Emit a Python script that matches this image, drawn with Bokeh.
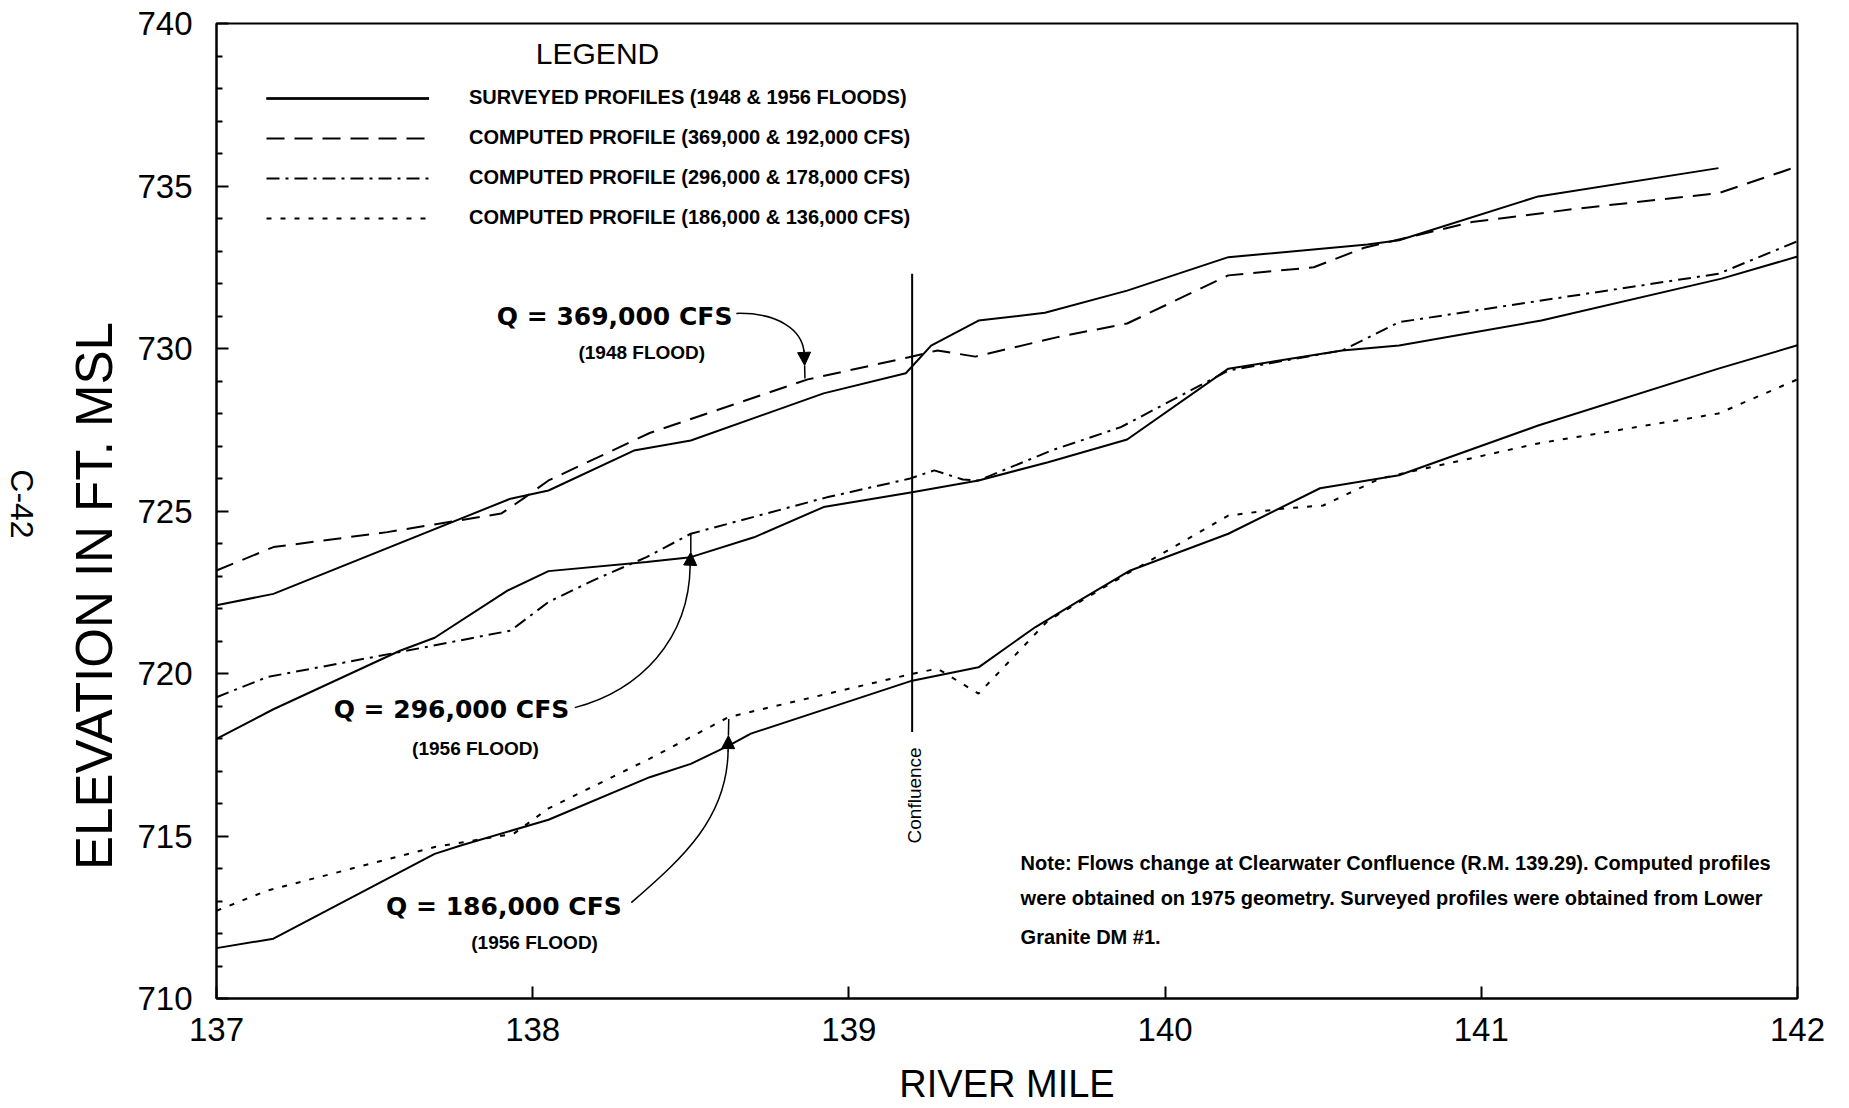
import math
from bokeh.plotting import figure
from bokeh.layouts import row
from bokeh.models import Range1d, FixedTicker, Label, Legend, LegendItem, Arrow, NormalHead
from bokeh.embed import file_html
from bokeh.resources import INLINE

FONT = "Liberation Sans"

# ---- axis ticks ----
mile_ticks = [137, 138, 139, 140, 141, 142]
elev_ticks = [710, 715, 720, 725, 730, 735, 740]
elev_minor = [v for v in range(711, 740) if v % 5 != 0]

# ---- surveyed profiles ----
s1948_mile = [137.0, 137.18, 137.93, 138.05, 138.32, 138.5, 138.92, 139.18, 139.26,
              139.41, 139.62, 139.88, 140.2, 140.64, 140.74, 141.18, 141.75]
s1948_elev = [722.1, 722.45, 725.38, 725.63, 726.86, 727.17, 728.62, 729.24, 730.09,
              730.86, 731.1, 731.78, 732.81, 733.2, 733.33, 734.68, 735.55]

s1956a_mile = [137.0, 137.18, 137.58, 137.69, 137.92, 138.05, 138.36, 138.5, 138.7, 138.92,
               139.2, 139.41, 139.63, 139.88, 140.2, 140.56, 140.74, 141.19, 141.76, 142.0]
s1956a_elev = [717.99, 718.9, 720.7, 721.1, 722.55, 723.15, 723.43, 723.58, 724.19, 725.12,
               725.58, 725.94, 726.5, 727.2, 729.38, 729.94, 730.09, 730.86, 732.15, 732.83]

s1956b_mile = [137.0, 137.18, 137.69, 137.77, 138.05, 138.37, 138.5, 138.62, 138.69, 139.2,
               139.41, 139.59, 139.73, 139.89, 140.2, 140.49, 140.74, 141.18, 141.75, 142.0]
s1956b_elev = [711.55, 711.84, 714.45, 714.7, 715.5, 716.81, 717.22, 717.78, 718.15, 719.78,
               720.19, 721.43, 722.25, 723.17, 724.3, 725.7, 726.1, 727.63, 729.38, 730.1]

# ---- computed profiles ----
c369_mile = [137.0, 137.18, 137.54, 137.9, 137.97, 138.05, 138.37, 138.87, 139.19, 139.28,
             139.4, 139.66, 139.88, 140.2, 140.47, 140.63, 140.97, 141.3, 141.75, 142.0]
c369_elev = [723.17, 723.89, 724.35, 724.92, 725.38, 725.94, 727.4, 729.05, 729.73, 729.94,
             729.75, 730.35, 730.77, 732.25, 732.5, 733.1, 733.89, 734.3, 734.78, 735.6]

c296_mile = [137.0, 137.16, 137.58, 137.93, 138.05, 138.19, 138.36, 138.5, 138.93, 139.19,
             139.27, 139.36, 139.41, 139.64, 139.86, 140.2, 140.56, 140.74, 141.05, 141.75, 142.0]
c296_elev = [719.27, 719.89, 720.66, 721.32, 722.2, 722.86, 723.58, 724.3, 725.42, 725.99,
             726.25, 725.97, 725.94, 726.86, 727.58, 729.32, 729.94, 730.81, 731.27, 732.3, 733.3]

c186_mile = [137.0, 137.16, 137.69, 137.94, 138.05, 138.37, 138.62, 139.2, 139.28, 139.41,
             139.63, 139.88, 140.2, 140.37, 140.5, 140.68, 141.18, 141.75, 142.0]
c186_elev = [712.7, 713.32, 714.66, 715.07, 715.85, 717.38, 718.66, 719.99, 720.15, 719.38,
             721.63, 723.07, 724.86, 725.07, 725.17, 726.0, 727.08, 728.0, 729.05]

# ---- Clearwater confluence marker ----
confluence_mile = 139.2
confluence_span = [718.2, 732.3]

legend_labels = [
    "SURVEYED PROFILES (1948 & 1956 FLOODS)",
    "COMPUTED PROFILE (369,000 & 192,000 CFS)",
    "COMPUTED PROFILE (296,000 & 178,000 CFS)",
    "COMPUTED PROFILE (186,000 & 136,000 CFS)",
]

note_lines = [
    "Note: Flows change at Clearwater Confluence (R.M. 139.29). Computed profiles",
    "were obtained on 1975 geometry. Surveyed profiles were obtained from Lower",
    "Granite DM #1.",
]
note_elev = [714.18, 713.08, 711.88]

# flood call-outs: (discharge text, flood text, discharge mile, flood mile, discharge elev, flood elev)
callouts = [
    ("Q = 369,000 CFS", "(1948 FLOOD)", 138.259, 138.345, 730.98, 729.88),
    ("Q = 296,000 CFS", "(1956 FLOOD)", 137.743, 137.819, 718.89, 717.69),
    ("Q = 186,000 CFS", "(1956 FLOOD)", 137.909, 138.006, 712.83, 711.72),
]

# leader curves from each call-out to its profile pair:
# curve (x0, y0, cx0, cy0, cx1, cy1, x1, y1), head (start -> tip), stem up/down to the computed line
leaders = [
    dict(curve=(138.644, 731.08, 138.779, 731.11, 138.852, 730.55, 138.858, 729.9),
         head=(138.858, 729.95, 138.860, 729.48), stem=(138.860, 729.48, 138.861, 729.08)),
    dict(curve=(138.133, 718.95, 138.338, 719.48, 138.495, 721.02, 138.498, 723.32),
         head=(138.498, 723.30, 138.500, 723.73), stem=(138.500, 723.73, 138.500, 724.31)),
    dict(curve=(138.312, 712.95, 138.464, 714.25, 138.615, 715.48, 138.618, 717.63),
         head=(138.618, 717.60, 138.619, 718.09), stem=(138.619, 718.09, 138.620, 718.60)),
]

MARGIN_W = 40
p = figure(width=1849 - MARGIN_W, height=1108, output_backend="svg", toolbar_location=None,
           x_range=Range1d(137, 142), y_range=Range1d(710, 740),
           min_border_left=216 - MARGIN_W, min_border_right=52, min_border_top=23,
           min_border_bottom=110, background_fill_color="white", border_fill_color="white")
p.grid.visible = False
p.outline_line_color = "black"
p.outline_line_width = 2

# axes
p.xaxis.ticker = FixedTicker(ticks=mile_ticks)
p.yaxis.ticker = FixedTicker(ticks=elev_ticks, minor_ticks=elev_minor)
for ax in (p.xaxis[0], p.yaxis[0]):
    ax.axis_line_width = 2
    ax.axis_line_color = "black"
    ax.major_tick_in = 12
    ax.major_tick_out = 0
    ax.major_tick_line_width = 2
    ax.major_tick_line_color = "black"
    ax.major_label_text_font = FONT
    ax.major_label_text_font_size = "33px"
    ax.major_label_text_color = "black"
    ax.axis_label_text_font = FONT
    ax.axis_label_text_font_style = "normal"
    ax.axis_label_text_color = "black"
p.xaxis.minor_tick_line_color = None
p.yaxis.minor_tick_in = 6
p.yaxis.minor_tick_out = 0
p.yaxis.minor_tick_line_width = 2
p.yaxis.minor_tick_line_color = "black"
p.yaxis.major_label_standoff = 24
p.xaxis.major_label_standoff = 19
# trailing no-break spaces push the title toward the lower part of the axis
p.yaxis.axis_label = "ELEVATION IN FT. MSL" + "\u00a0" * 12
p.yaxis.axis_label_text_font_size = "51px"
p.yaxis.axis_label_standoff = 11
p.xaxis.axis_label = "RIVER MILE"
p.xaxis.axis_label_text_font_size = "38px"
p.xaxis.axis_label_standoff = 19

LW = 2
solid = dict(line_color="black", line_width=LW)
r_s48 = p.line(s1948_mile, s1948_elev, **solid)
r_s56a = p.line(s1956a_mile, s1956a_elev, **solid)
r_s56b = p.line(s1956b_mile, s1956b_elev, **solid)
r_c369 = p.line(c369_mile, c369_elev, line_color="black", line_width=LW, line_dash="18 10")
r_c296 = p.line(c296_mile, c296_elev, line_color="black", line_width=LW, line_dash="13 6 3 6")
r_c186 = p.line(c186_mile, c186_elev, line_color="black", line_width=LW, line_dash="5 9")

# confluence marker line and label
p.segment(x0=[confluence_mile], y0=[confluence_span[0]], x1=[confluence_mile], y1=[confluence_span[1]],
          line_color="black", line_width=2)
p.add_layout(Label(x=confluence_mile + 0.008, y=716.25, text="Confluence", angle=math.pi / 2,
                   text_align="center", text_baseline="middle", text_font=FONT,
                   text_font_size="19px", text_color="black"))

# legend
legend = Legend(items=[
    LegendItem(label=legend_labels[0], renderers=[r_s48, r_s56a, r_s56b]),
    LegendItem(label=legend_labels[1], renderers=[r_c369]),
    LegendItem(label=legend_labels[2], renderers=[r_c296]),
    LegendItem(label=legend_labels[3], renderers=[r_c186]),
], location=(50, 769), glyph_width=163, glyph_height=20, label_height=20, label_standoff=40,
    spacing=17, padding=0, margin=0, border_line_color=None, background_fill_alpha=0,
    label_text_font=FONT, label_text_font_size="20px", label_text_font_style="bold",
    label_text_color="black")
p.add_layout(legend)
p.add_layout(Label(x=138.205, y=739.08, text="LEGEND", text_align="center", text_baseline="middle",
                   text_font=FONT, text_font_size="30px", text_color="black"))

# call-outs
for q_text, flood_text, xq, xf, yq, yf in callouts:
    p.add_layout(Label(x=xq, y=yq, text=q_text, text_align="center", text_baseline="middle",
                       text_font="DejaVu Sans", text_font_style="bold", text_font_size="25px",
                       text_color="black"))
    p.add_layout(Label(x=xf, y=yf, text=flood_text, text_align="center", text_baseline="middle",
                       text_font=FONT, text_font_style="bold", text_font_size="19px",
                       text_color="black"))

for ld in leaders:
    x0, y0, cx0, cy0, cx1, cy1, x1, y1 = ld["curve"]
    p.bezier(x0=[x0], y0=[y0], cx0=[cx0], cy0=[cy0], cx1=[cx1], cy1=[cy1], x1=[x1], y1=[y1],
             line_color="black", line_width=1.5)
    hx0, hy0, hx1, hy1 = ld["head"]
    p.add_layout(Arrow(x_start=hx0, y_start=hy0, x_end=hx1, y_end=hy1, line_width=1.5,
                       end=NormalHead(size=13, fill_color="black", line_color="black", line_width=1)))
    sx0, sy0, sx1, sy1 = ld["stem"]
    p.segment(x0=[sx0], y0=[sy0], x1=[sx1], y1=[sy1], line_color="black", line_width=1.5)

# explanatory note
for line, yv in zip(note_lines, note_elev):
    p.add_layout(Label(x=139.543, y=yv, text=line, text_align="left", text_baseline="middle",
                       text_font=FONT, text_font_style="bold", text_font_size="20px",
                       text_color="black"))

# narrow strip on the left carrying the page number
margin = figure(width=MARGIN_W, height=1108, output_backend="svg", toolbar_location=None,
                x_range=Range1d(0, MARGIN_W), y_range=Range1d(0, 1108), min_border=0,
                x_axis_location=None, y_axis_location=None,
                background_fill_color="white", border_fill_color="white")
margin.grid.visible = False
margin.outline_line_color = None
margin.add_layout(Label(x=21, y=562, text="C-42", angle=-math.pi / 2, text_align="center",
                        text_baseline="middle", text_font=FONT, text_font_size="32px",
                        text_color="black"))

layout = row(margin, p)
open("out.html", "w").write(file_html(layout, INLINE))
